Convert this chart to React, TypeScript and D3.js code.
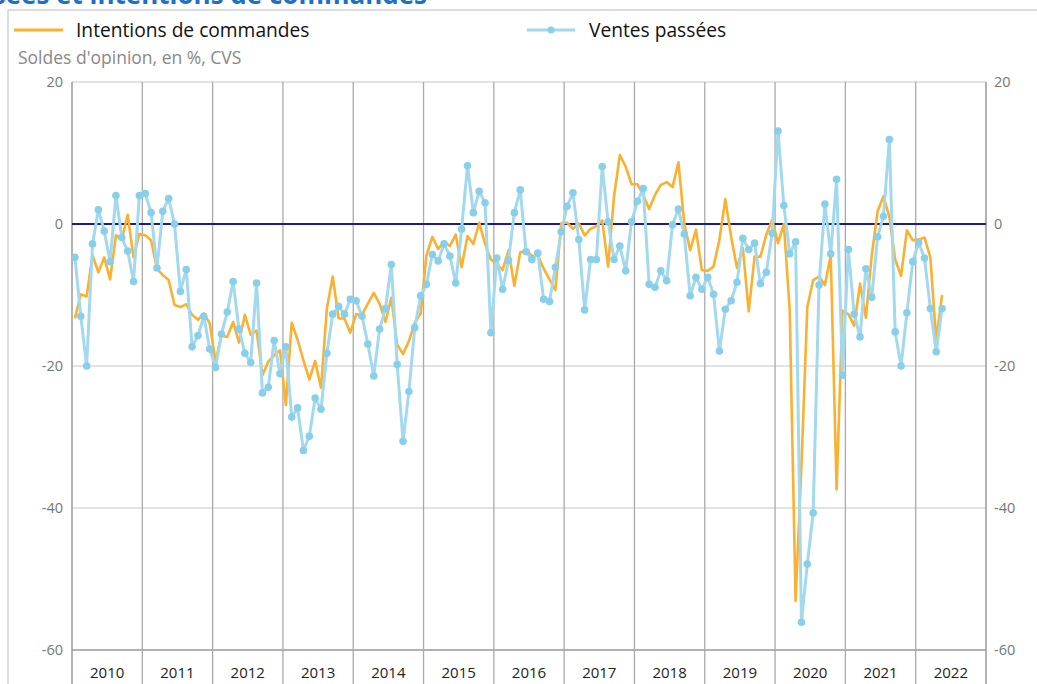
import React from "react";
import * as d3 from "d3";

const title = "Ventes passées et intentions de commandes";
const subtitle = "Soldes d'opinion, en %, CVS";
const seriesNames = ["Intentions de commandes", "Ventes passées"];
const years = [2010, 2011, 2012, 2013, 2014, 2015, 2016, 2017, 2018, 2019, 2020, 2021, 2022];
const yTicks = [20, 0, -20, -40, -60];
const startYear = 2010;

// Monthly values, Jan 2010 -> May 2022
const intentions = [
  -13.3, -9.9, -10.2, -4.4, -6.8, -4.7, -7.8, -1.6, -2.2, 1.3, -4.7, -1.4,
  -1.6, -2.3, -6.3, -7.2, -7.9, -11.4, -11.7, -11.3, -12.8, -13.5, -12.6, -14.0,
  -19.4, -15.7, -15.9, -13.8, -16.7, -12.8, -15.6, -15.0, -21.3, -19.4, -18.5, -17.8,
  -25.5, -13.9, -16.3, -19.2, -21.9, -19.3, -23.1, -11.9, -7.4, -13.3, -13.3, -15.3,
  -12.7, -12.8, -11.2, -9.7, -11.2, -13.8, -10.4, -17.0, -18.3, -16.5, -13.9, -12.6,
  -4.4, -1.8, -3.5, -2.5, -3.1, -1.5, -6.1, -1.7, -2.8, 0.2, -2.8, -5.0,
  -5.6, -6.5, -3.7, -8.7, -4.0, -3.7, -4.5, -4.4, -6.3, -7.8, -9.3, 0.1,
  0.2, -0.7, 0.1, -1.6, -0.7, -0.3, 0.5, -6.0, 3.8, 9.7, 8.1, 5.6,
  5.6, 4.1, 2.1, 4.1, 5.5, 5.9, 5.2, 8.7, 0.1, -3.7, -0.8, -6.5,
  -6.6, -6.0, -2.2, 3.5, -1.8, -6.2, -3.4, -12.3, -4.6, -4.6, -1.5, 0.6,
  -2.7, 0.0, -12.2, -53.1, -34.0, -11.7, -7.9, -7.4, -8.6, -4.4, -37.4, -12.2,
  -12.7, -14.3, -8.4, -13.2, -4.4, 1.8, 3.9, 1.0, -5.0, -7.3, -0.9, -2.3,
  -2.2, -1.9, -4.7, -16.4, -10.0,
];

const ventes = [
  -4.7, -13.0, -20.0, -2.8, 2.0, -1.0, -5.3, 4.0, -1.9, -3.8, -8.1, 4.0,
  4.3, 1.6, -6.2, 1.8, 3.6, 0.0, -9.5, -6.4, -17.3, -15.7, -13.0, -17.6,
  -20.2, -15.5, -12.4, -8.1, -14.8, -18.2, -19.5, -8.3, -23.8, -23.0, -16.4, -21.1,
  -17.3, -27.2, -25.9, -31.9, -29.9, -24.5, -26.1, -18.2, -12.7, -11.6, -12.7, -10.6,
  -10.8, -13.0, -16.9, -21.4, -14.8, -11.9, -5.7, -19.8, -30.6, -23.6, -14.6, -10.1,
  -8.5, -4.3, -5.2, -2.8, -4.5, -8.3, -0.7, 8.2, 1.6, 4.6, 3.0, -15.3,
  -4.8, -9.2, -5.1, 1.6, 4.8, -3.9, -5.0, -4.1, -10.6, -10.9, -6.1, -1.1,
  2.5, 4.4, -2.2, -12.1, -5.0, -5.0, 8.1, 0.3, -5.0, -3.1, -6.6, 0.3,
  3.2, 5.0, -8.5, -8.9, -6.6, -8.0, -0.1, 2.1, -1.4, -10.1, -7.5, -9.2,
  -7.5, -9.9, -17.9, -12.0, -10.8, -8.2, -2.0, -3.6, -2.7, -8.4, -6.8, -1.3,
  13.1, 2.6, -4.2, -2.5, -56.1, -47.9, -40.7, -8.6, 2.8, -4.2, 6.3, -21.3,
  -3.6, -12.7, -15.9, -6.3, -10.3, -1.8, 1.1, 11.9, -15.2, -20.0, -12.5, -5.3,
  -2.6, -4.8, -11.9, -18.0, -11.9,
];

const ORANGE = "#fbb12f";
const BLUE_LINE = "#a2d9ef";
const BLUE_DOT = "#89cfea";
const NAVY = "#1c1c8a";
const FONT = "'Open Sans', 'Noto Sans', sans-serif";

export default function App() {
  const W = 1037;
  const H = 684;
  const left = 72;
  const right = 986;
  const top = 82;
  const bottom = 650;

  const x = d3.scaleLinear().domain([startYear, startYear + years.length]).range([left, right]);
  const y = d3.scaleLinear().domain([-60, 20]).range([bottom, top]);
  const mx = (i: number) => x(startYear + (i + 0.5) / 12);

  const lineGen = d3
    .line<number>()
    .x((_, i) => mx(i))
    .y((d) => y(d));

  return (
    <svg
      width={W}
      height={H}
      style={{ position: "absolute", left: 0, top: 0, background: "#fff" }}
    >
      {/* title (cut at top, as in the reference) */}
      <text
        x={427}
        y={4}
        textAnchor="end"
        fontFamily={FONT}
        fontWeight={700}
        fontSize={26}
        fill="#1f6fc5"
      >
        {title}
      </text>
      {/* frame */}
      <line x1={8} x2={W} y1={10} y2={10} stroke="#dcdcdc" strokeWidth={2} />
      <line x1={8} x2={8} y1={10} y2={H} stroke="#dcdcdc" strokeWidth={2} />

      {/* legend */}
      <line x1={14} x2={63} y1={30} y2={30} stroke={ORANGE} strokeWidth={3} />
      <text x={76} y={37} fontFamily={FONT} fontSize={19.2} fill="#111">
        {seriesNames[0]}
      </text>
      <line x1={527} x2={575} y1={30} y2={30} stroke={BLUE_LINE} strokeWidth={3} />
      <circle cx={551} cy={30} r={3.5} fill={BLUE_DOT} />
      <text x={589} y={37} fontFamily={FONT} fontSize={19.2} fill="#111">
        {seriesNames[1]}
      </text>
      <text x={18} y={64} fontFamily={FONT} fontSize={17.5} fill="#888">
        {subtitle}
      </text>

      {/* horizontal grid */}
      {yTicks
        .filter((t) => t !== 0)
        .map((t) => (
          <line
            key={t}
            x1={left}
            x2={right}
            y1={y(t)}
            y2={y(t)}
            stroke={t === -60 ? "#999" : "#c8c8c8"}
            strokeWidth={t === -60 ? 1.5 : 1.2}
          />
        ))}
      {/* vertical year lines */}
      {years.slice(1).map((yr) => (
        <line
          key={yr}
          x1={x(yr)}
          x2={x(yr)}
          y1={top}
          y2={H}
          stroke="#aaa"
          strokeWidth={1.3}
        />
      ))}
      <line x1={left} x2={left} y1={top} y2={H} stroke="#999" strokeWidth={1.5} />
      <line x1={right} x2={right} y1={top} y2={H} stroke="#999" strokeWidth={1.5} />

      {/* y labels */}
      {yTicks.map((t) => (
        <g key={t}>
          <text
            x={left - 9}
            y={y(t) + 5}
            textAnchor="end"
            fontFamily={FONT}
            fontSize={14.5}
            fill="#777"
          >
            {t}
          </text>
          <text
            x={right + 8}
            y={y(t) + 5}
            textAnchor="start"
            fontFamily={FONT}
            fontSize={14.5}
            fill="#777"
          >
            {t}
          </text>
        </g>
      ))}
      {/* year labels */}
      {years.map((yr) => (
        <text
          key={yr}
          x={x(yr + 0.5)}
          y={678}
          textAnchor="middle"
          fontFamily={FONT}
          fontSize={15}
          fill="#222"
        >
          {yr}
        </text>
      ))}

      {/* zero line */}
      <line x1={left} x2={right} y1={y(0)} y2={y(0)} stroke={NAVY} strokeWidth={2} />

      {/* series */}
      <path d={lineGen(intentions) || ""} fill="none" stroke={ORANGE} strokeWidth={2.6} strokeLinejoin="round" />
      <path d={lineGen(ventes) || ""} fill="none" stroke={BLUE_LINE} strokeWidth={3} strokeLinejoin="round" />
      {ventes.map((v, i) => (
        <circle key={i} cx={mx(i)} cy={y(v)} r={3.8} fill={BLUE_DOT} />
      ))}
    </svg>
  );
}
